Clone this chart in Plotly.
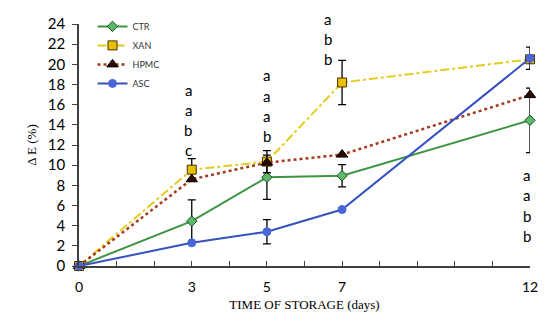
import plotly.graph_objects as go

days = [0, 3, 5, 7, 12]
ctr = [0, 4.45, 8.8, 8.95, 14.45]
xan = [0, 9.55, 10.35, 18.2, 20.5]
hpmc = [0, 8.6, 10.25, 11.05, 16.95]
asc = [0, 2.3, 3.4, 5.6, 20.6]

ctr_err = [0, 2.1, 2.2, 1.1, 3.2]
xan_err = [0, 1.1, 1.1, 2.2, 0]
hpmc_err = [0, 0, 0, 0, 0]
asc_err = [0, 0, 1.2, 0, 1.1]

x_tick_vals = list(range(13))
x_tick_text = ["0", "", "", "3", "", "5", "", "7", "", "", "", "", "12"]
y_tick_vals = list(range(0, 25, 2))
y_max = 24

# significance letters: (x position in days, top y in data units, letters)
letter_groups = [
    (2.91, 17.5, ["a", "a", "b", "c"]),
    (5.0, 18.9, ["a", "a", "a", "b"]),
    (6.62, 24.5, ["a", "b", "b"]),
    (11.92, 9.0, ["a", "a", "b", "b"]),
]
letter_step = 2.0

fig = go.Figure()

def err(vals):
    return dict(type="data", array=vals, visible=True, color="black",
                thickness=1.3, width=4)

fig.add_trace(go.Scatter(
    x=days, y=ctr, name="CTR", mode="lines+markers",
    line=dict(color="#3E9443", width=2),
    marker=dict(symbol="diamond", size=8, color="#5DB86A",
                line=dict(color="#1E4D22", width=1)),
    error_y=err(ctr_err), cliponaxis=False))
fig.add_trace(go.Scatter(
    x=days, y=xan, name="XAN", mode="lines+markers",
    line=dict(color="#E2CC1E", width=2, dash="dashdot"),
    marker=dict(symbol="square", size=9, color="#E8C000",
                line=dict(color="#4A2E00", width=1)),
    error_y=err(xan_err), cliponaxis=False))
fig.add_trace(go.Scatter(
    x=days, y=hpmc, name="HPMC", mode="lines+markers",
    line=dict(color="#A33A1E", width=2.5, dash="dot"),
    marker=dict(symbol="triangle-up", size=10, color="#2A0E02",
                line=dict(color="#000000", width=1)),
    error_y=err(hpmc_err), cliponaxis=False))
fig.add_trace(go.Scatter(
    x=days, y=asc, name="ASC", mode="lines+markers",
    line=dict(color="#3552C0", width=2),
    marker=dict(symbol="circle", size=8, color="#4A66D8",
                line=dict(color="#4A66D8", width=1)),
    error_y=err(asc_err), cliponaxis=False))

for gx, gy, letters in letter_groups:
    for i, t in enumerate(letters):
        fig.add_annotation(x=gx, y=(gy - i * letter_step) / y_max, text=t,
                           xref="x", yref="paper", showarrow=False,
                           xanchor="center", yanchor="middle",
                           font=dict(family="Lato", size=15, color="black"))

fig.update_layout(
    width=550, height=326,
    margin=dict(l=79, r=14, t=14, b=60),
    paper_bgcolor="white", plot_bgcolor="white",
    showlegend=True,
    legend=dict(x=0.03, y=1.05, xanchor="left", yanchor="top",
                bgcolor="rgba(0,0,0,0)", font=dict(family="Lato", size=9, color="#333"),
                tracegroupgap=0, itemwidth=30),
    xaxis=dict(range=[0, 12], tickmode="array", tickvals=x_tick_vals,
               ticktext=x_tick_text, ticks="inside", ticklen=5,
               tickcolor="#404040", showline=True, linecolor="#404040",
               linewidth=1.5, showgrid=False, zeroline=False,
               ticklabelstandoff=7,
               tickfont=dict(family="Lato", size=14, color="black"),
               title=dict(text="TIME OF STORAGE (days)", standoff=6,
                          font=dict(family="Liberation Serif", size=13, color="black"))),
    yaxis=dict(range=[0, y_max], tickmode="array", tickvals=y_tick_vals,
               ticks="outside", ticklen=5, tickcolor="#404040",
               showline=True, linecolor="#404040", linewidth=1.5,
               showgrid=False, zeroline=False, ticklabelstandoff=4,
               tickfont=dict(family="Lato", size=15, color="black"),
               title=dict(text="Δ E (%)", standoff=8,
                          font=dict(family="Liberation Serif", size=13, color="black"))),
)

fig.write_html("out.html", config={"displayModeBar": False},
               post_script="document.body.style.margin='0';")
